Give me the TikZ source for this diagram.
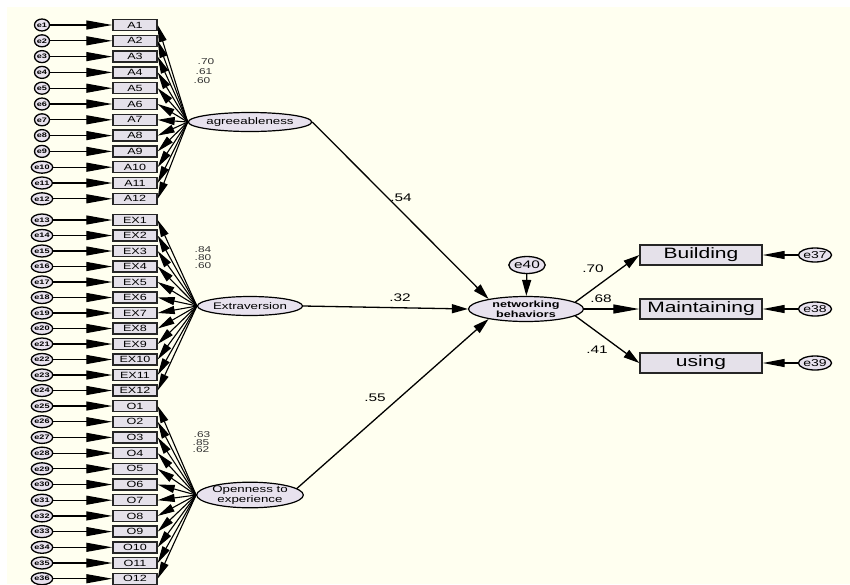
\documentclass[tikz,border=0pt]{standalone}
\usepackage{fontspec}
\setmainfont{Liberation Sans}
\usepackage{graphicx}
\usetikzlibrary{arrows.meta,shapes.geometric}
\definecolor{paper}{RGB}{255,255,240}
\definecolor{boxfill}{RGB}{229,225,234}
\definecolor{latfill}{RGB}{232,226,238}
\newcommand\wide[1]{\scalebox{1.4}[1]{#1}}
\tikzset{
	ind/.style={draw=black!85, line width=1.4pt, fill=boxfill, minimum width=44pt, minimum height=11pt, inner sep=0pt, font=\fontsize{9}{9}\selectfont},
	err/.style={ellipse, draw=black, line width=1.3pt, fill=latfill, minimum width=15pt, minimum height=12pt, inner sep=0pt, font=\bfseries\fontsize{6.5}{6.5}\selectfont},
	lat/.style={ellipse, draw=black, line width=1.2pt, fill=latfill, minimum width=105pt, minimum height=19pt, inner sep=0pt, align=center, font=\fontsize{9.5}{9.5}\selectfont},
	obs/.style={draw=black!85, line width=1.4pt, fill=boxfill, minimum width=122pt, minimum height=20pt, inner sep=0pt, font=\fontsize{15}{15}\selectfont},
	errarr/.style={-{Triangle[length=26pt,width=9pt]}, line width=1.2pt},
	loadarr/.style={-{Triangle[length=17pt,width=8pt]}, line width=1.1pt},
	patharr/.style={-{Triangle[length=16pt,width=9pt]}, line width=1.3pt},
	coef/.style={inner sep=0pt, font=\fontsize{11}{11}\selectfont},
	small/.style={inner sep=0pt, text=black!80, font=\fontsize{8.5}{8.5}\selectfont},
}

\begin{document}
\begin{tikzpicture}[x=1pt,y=-1pt]
	\useasboundingbox (0,0) rectangle (850,584);
	\fill[paper] (7,7) rectangle (850,584);

	% latent variables
	\node[lat] (agree) at (250,122) {\wide{agreeableness}};
	\node[lat] (extra) at (250,306) {\wide{Extraversion}};
	\node[lat, minimum height=21pt] (open) at (250,495) {\wide{Openness to}\\\wide{experience}};
	\node[lat, minimum width=115pt, minimum height=25pt, font=\bfseries\fontsize{9}{10}\selectfont] (net) at (526,309) {\wide{networking}\\\wide{behaviors}};

	% indicators and their errors
	\foreach \i in {1,...,12}
	{
		\pgfmathsetmacro\ya{25+15.8*(\i-1)}
		\pgfmathsetmacro\yb{220+15.5*(\i-1)}
		\pgfmathsetmacro\yc{406+15.7*(\i-1)}
		\pgfmathtruncatemacro\eb{\i+12}
		\pgfmathtruncatemacro\ec{\i+24}
		\node[ind] (A\i) at (135,\ya) {\wide{A\i}};
		\node[ind] (EX\i) at (135,\yb) {\wide{EX\i}};
		\node[ind] (O\i) at (135,\yc) {\wide{O\i}};
		\node[err] (ea\i) at (42,\ya) {\wide{e\i}};
		\node[err] (eb\i) at (42,\yb) {\wide{e\eb}};
		\node[err] (ec\i) at (42,\yc) {\wide{e\ec}};
	};

	\foreach \i in {1,...,12}
	{
		\path (ea\i) edge[errarr] (A\i);
		\path (eb\i) edge[errarr] (EX\i);
		\path (ec\i) edge[errarr] (O\i);
		\path (agree.west) edge[loadarr] (A\i.east);
		\path (extra.west) edge[loadarr] (EX\i.east);
		\path (open.west) edge[loadarr] (O\i.east);
	};

	% loadings
	\node[small] (la1) at (206,62) {\wide{.70}};
	\node[small] (la2) at (204,72) {\wide{.61}};
	\node[small] (la3) at (202,81) {\wide{.60}};
	\node[small] (lb1) at (203,250) {\wide{.84}};
	\node[small] (lb2) at (203,258) {\wide{.80}};
	\node[small] (lb3) at (203,266) {\wide{.60}};
	\node[small] (lc1) at (202,435) {\wide{.63}};
	\node[small] (lc2) at (201,443) {\wide{.85}};
	\node[small] (lc3) at (201,450) {\wide{.62}};

	% structural part
	\node[obs] (build) at (701,255) {\wide{Building}};
	\node[obs] (maint) at (701,309) {\wide{Maintaining}};
	\node[obs] (use) at (701,363) {\wide{using}};
	\node[err, minimum width=26pt, minimum height=14pt, font=\fontsize{10}{10}\selectfont] (e37) at (815,255) {\wide{e37}};
	\node[err, minimum width=26pt, minimum height=14pt, font=\fontsize{10}{10}\selectfont] (e38) at (815,309) {\wide{e38}};
	\node[err, minimum width=26pt, minimum height=14pt, font=\fontsize{10}{10}\selectfont] (e39) at (815,363) {\wide{e39}};
	\node[err, minimum width=33pt, minimum height=17pt, font=\fontsize{11}{11}\selectfont] (e40) at (527,265) {\wide{e40}};

	\path (agree.east) edge[patharr] (net.165);
	\path (extra.east) edge[patharr] (net.west);
	\path (open.8) edge[patharr] (net.195);
	\path (e40) edge[patharr] (net);
	\path (net.8) edge[patharr] (build.west);
	\path (net.east) edge[-{Triangle[length=26pt,width=9pt]}, line width=1.3pt] (maint.west);
	\path (net.-8) edge[patharr] (use.west);
	\foreach \e / \b in {e37/build, e38/maint, e39/use}
	{
		\path (\e) edge[-{Triangle[length=22pt,width=8pt]}, line width=1.3pt] (\b.east);
	};

	\node[coef] (c54) at (401,198) {\wide{.54}};
	\node[coef] (c32) at (400,298) {\wide{.32}};
	\node[coef] (c55) at (375,398) {\wide{.55}};
	\node[coef] (c70) at (593,269) {\wide{.70}};
	\node[coef] (c68) at (601,299) {\wide{.68}};
	\node[coef] (c41) at (597,350) {\wide{.41}};
\end{tikzpicture}
\end{document}
